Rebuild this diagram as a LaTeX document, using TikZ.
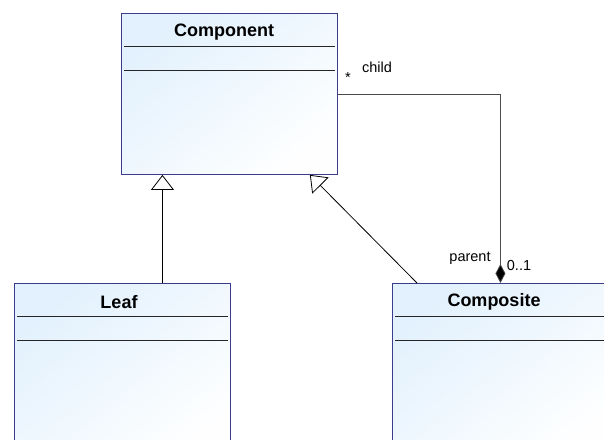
\documentclass[tikz,border=0pt]{standalone}
\usepackage{fontspec}
\setmainfont{Liberation Sans}
\usetikzlibrary{arrows.meta,positioning}
\definecolor{classborder}{RGB}{60,60,140}
\definecolor{classfill}{RGB}{226,241,253}

\begin{document}
\begin{tikzpicture}[x=1bp ,y=-1bp ,
umlclass/.style ={ rectangle ,draw=classborder ,line width=0.9bp ,
top color=classfill ,bottom color=white!96!classfill ,shading angle=40 ,
minimum width=216bp ,anchor=north west ,inner sep=0pt},
title/.style ={ font=\fontsize{18bp}{20bp}\selectfont\bfseries ,inner sep=0pt},
role/.style ={ font=\fontsize{14.5bp}{16bp}\selectfont ,inner sep=0pt},
divider/.style ={ line width=0.9bp ,black!85},
generalization/.style ={ line width=0.8bp ,-{Triangle[open,fill=white,width=23bp,length=15bp]}},
composition/.style ={ line width=0.8bp ,black!70 ,-{Diamond[fill=black,width=10bp,length=19bp]}}]

\useasboundingbox (0,0) rectangle (604,440);
\clip (0,0) rectangle (604,440);

\node[umlclass ,minimum height=161bp] (component) at (121,13) {};
\node[umlclass ,minimum height=175bp] (leaf) at (14,283) {};
\node[umlclass ,minimum height=175bp] (composite) at (392,283) {};

\node[title] (componenttitle) at (224,32) {Component};
\node[title] (leaftitle) at (119,302) {Leaf};
\node[title] (compositetitle) at (494,302) {Composite};

\draw[divider] ([shift={(3,33)}]component.north west) -- ([shift={(-3,33)}]component.north east);
\draw[divider] ([shift={(3,57)}]component.north west) -- ([shift={(-3,57)}]component.north east);
\draw[divider] ([shift={(3,33)}]leaf.north west) -- ([shift={(-3,33)}]leaf.north east);
\draw[divider] ([shift={(3,57)}]leaf.north west) -- ([shift={(-3,57)}]leaf.north east);
\draw[divider] ([shift={(3,33)}]composite.north west) -- ([shift={(-3,33)}]composite.north east);
\draw[divider] ([shift={(3,57)}]composite.north west) -- ([shift={(-3,57)}]composite.north east);

\draw[generalization] ([xshift=40bp]leaf.north) -- ([xshift=40bp]leaf.north |- component.south);
\draw[generalization] ([xshift=25bp]composite.north west) -- ([xshift=-28bp]component.south east);
\draw[composition] (component.east) -| (composite.north);

\node[role] (childmult) at (348,78) {*};
\node[role] (childrole) at (377,67) {child};
\node[role] (parentrole) at (470,258) {parent};
\node[role] (parentmult) at (519,266) {0..1};

\end{tikzpicture}
\end{document}
